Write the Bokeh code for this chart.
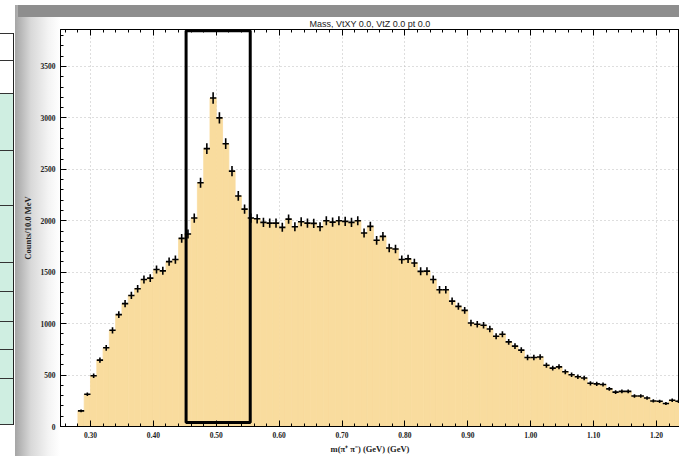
import numpy as np
from bokeh.plotting import figure
from bokeh.models import (ColumnDataSource, LinearAxis, Range1d, SingleIntervalTicker,
                          NumeralTickFormatter, BoxAnnotation, CustomJSTickFormatter)
from bokeh.embed import file_html
from bokeh.resources import INLINE

# ---- data ----
bin_start = 0.28      # GeV, lower edge of first filled bin
bin_width = 0.01      # GeV (10 MeV)
counts = [152, 313, 494, 645, 765, 935, 1087, 1194, 1274, 1339,
          1429, 1442, 1526, 1513, 1603, 1623, 1829, 1871, 2026, 2370,
          2701, 3193, 3000, 2749, 2482, 2241, 2113, 2026, 2019, 1984,
          1977, 1977, 1936, 2016, 1942, 1990, 1977, 1974, 1942, 2000,
          1987, 2000, 1994, 1984, 2000, 1881, 1945, 1810, 1848, 1735,
          1726, 1623, 1629, 1590, 1508, 1510, 1429, 1329, 1329, 1219,
          1168, 1129, 1006, 994, 984, 948, 877, 897, 823, 781,
          742, 671, 671, 676, 596, 567, 580, 532, 503, 484,
          471, 420, 414, 408, 366, 334, 341, 341, 296, 296,
          277, 248, 245, 223, 255, 245]

title_text = "Mass, VtXY 0.0, VtZ 0.0 pt 0.0"
x_label = "m(π⁺ π⁻) (GeV) (GeV)"
y_label = "Counts/10.0 MeV"
x_ticks_major = 0.1
y_ticks_major = 500
roi_x = (0.452, 0.554)      # highlighted window
roi_y = (38, 3846)

# ---- derived ----
n = len(counts)
left = bin_start + bin_width * np.arange(n)
right = left + bin_width
center = left + bin_width / 2
cnt = np.array(counts, dtype=float)
err = np.sqrt(cnt)
src = ColumnDataSource(dict(left=left, right=right, x=center, top=cnt,
                            lo=cnt - err, hi=cnt + err))

# window chrome around the plot (screenshot surroundings), drawn as CSS background
row_lines = [33, 60, 93, 150, 205, 262, 291, 321, 349, 378, 424]
layers = ["linear-gradient(#8e8e8e,#8e8e8e) 18px 5px / 661px 12px no-repeat",
          "linear-gradient(to right, #a5a5a5, #d8d8d8 35%, #f4f4f4 75%, #ffffff) 15px 5px / 45px 451px no-repeat",
          "linear-gradient(#222,#222) 13px 33px / 1px 392px no-repeat"]
layers += [f"linear-gradient(#333,#333) 0px {y}px / 14px 1px no-repeat" for y in row_lines]
layers += ["linear-gradient(#cfeee1,#cfeee1) 0px 94px / 13px 330px no-repeat", "#ffffff"]
chrome = ", ".join(layers)

p = figure(width=679, height=456, x_range=Range1d(0.2523, 1.2366),
           y_range=Range1d(0, 3859), output_backend="svg", toolbar_location=None,
           min_border_left=60, min_border_right=0, min_border_top=29,
           min_border_bottom=29)
p.styles = {"background": chrome}
p.background_fill_color = "white"
p.border_fill_alpha = 0
p.outline_line_color = "black"
p.outline_line_width = 1

p.title.text = title_text
p.title.align = "center"
p.title.text_font = "Liberation Sans"
p.title.text_font_size = "9px"
p.title.text_font_style = "normal"
p.title.text_color = "#222222"
p.title.standoff = 2

xt = SingleIntervalTicker(interval=x_ticks_major, num_minor_ticks=5)
yt = SingleIntervalTicker(interval=y_ticks_major, num_minor_ticks=5)

for ax in (p.xaxis[0], p.yaxis[0]):
    ax.major_tick_in = 6
    ax.major_tick_out = 0
    ax.minor_tick_in = 3
    ax.minor_tick_out = 0
    ax.axis_line_color = "black"
    ax.major_tick_line_color = "black"
    ax.minor_tick_line_color = "black"
    ax.major_label_text_font = "Liberation Serif"
    ax.major_label_text_font_style = "bold"
    ax.major_label_text_font_size = "7.5px"
    ax.major_label_text_color = "#222222"
    ax.axis_label_text_font = "Liberation Serif"
    ax.axis_label_text_font_style = "bold"
    ax.axis_label_text_font_size = "8.5px"
    ax.axis_label_text_color = "#222222"

p.xaxis.ticker = xt
p.xaxis.formatter = NumeralTickFormatter(format="0.00")
p.xaxis.axis_label = x_label
p.xaxis.major_label_standoff = 5
p.xaxis.axis_label_standoff = 3
p.yaxis.ticker = yt
p.yaxis.axis_label = y_label
p.yaxis.major_label_standoff = 5
p.yaxis.axis_label_standoff = 5

top_axis = LinearAxis(ticker=xt, formatter=CustomJSTickFormatter(code="return ''"),
                      major_tick_in=6, major_tick_out=0, minor_tick_in=3, minor_tick_out=0,
                      major_label_standoff=0, axis_line_color="black")
p.add_layout(top_axis, "above")

for g in (p.xgrid[0], p.ygrid[0]):
    g.grid_line_color = "#bdbdbd"
    g.grid_line_dash = "1 3"
    g.grid_line_width = 1

fill = "#f9dc9e"
p.quad(left="left", right="right", top="top", bottom=0, source=src,
       fill_color=fill, line_color=fill, line_width=0.8)
p.segment(x0="left", y0="top", x1="right", y1="top", source=src,
          line_color="black", line_width=1.6)
p.segment(x0="x", y0="lo", x1="x", y1="hi", source=src,
          line_color="black", line_width=1.6)

p.add_layout(BoxAnnotation(left=roi_x[0], right=roi_x[1], bottom=roi_y[0], top=roi_y[1],
                           fill_alpha=0, line_color="black", line_alpha=1, line_width=3))

open("out.html", "w").write(file_html(p, INLINE))
